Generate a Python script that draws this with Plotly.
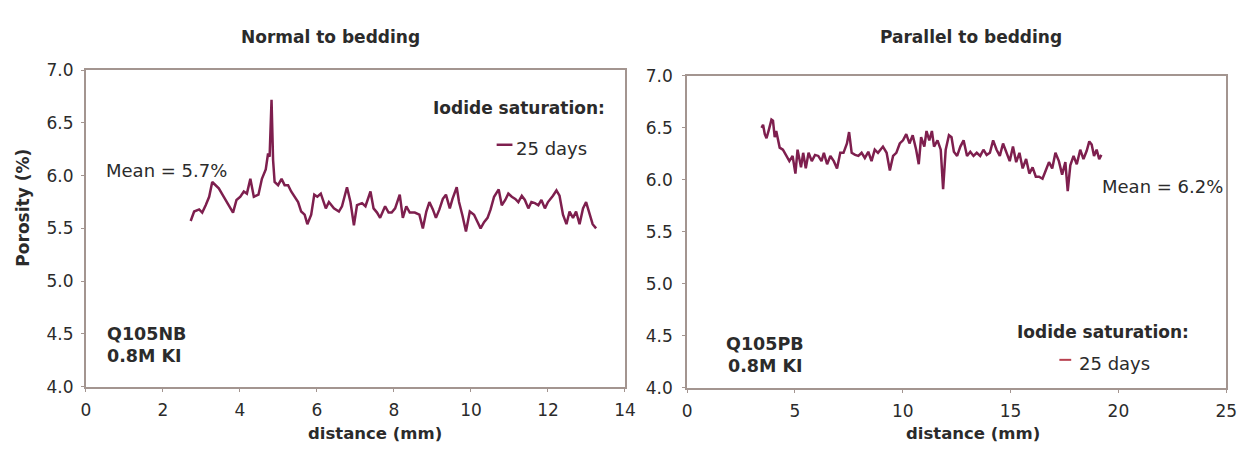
import plotly.graph_objects as go

W, H = 1253, 453

# ---------------- data ----------------
nb_distance = [2.72, 2.81, 2.94, 3.02, 3.11, 3.20, 3.28, 3.37, 3.45, 3.58, 3.71, 3.82, 3.91, 4.01, 4.10, 4.18,
               4.27, 4.36, 4.48, 4.57, 4.67, 4.73, 4.77, 4.82, 4.86, 4.90, 4.99, 5.08, 5.16, 5.25, 5.33, 5.42,
               5.51, 5.59, 5.68, 5.75, 5.85, 5.93, 6.01, 6.10, 6.23, 6.31, 6.44, 6.57, 6.65, 6.78, 6.87, 6.96,
               7.04, 7.17, 7.26, 7.39, 7.47, 7.56, 7.64, 7.77, 7.86, 7.94, 8.03, 8.15, 8.23, 8.32, 8.41, 8.54,
               8.66, 8.75, 8.84, 8.92, 9.01, 9.09, 9.18, 9.27, 9.35, 9.45, 9.52, 9.63, 9.69, 9.78, 9.87, 9.97,
               10.08, 10.17, 10.25, 10.34, 10.43, 10.51, 10.60, 10.72, 10.80, 10.89, 10.97, 11.06, 11.15, 11.23,
               11.32, 11.40, 11.49, 11.57, 11.66, 11.75, 11.83, 11.92, 12.00, 12.13, 12.22, 12.30, 12.39, 12.48,
               12.56, 12.65, 12.73, 12.82, 12.91, 12.99, 13.08, 13.16, 13.25]
nb_porosity = [5.57, 5.66, 5.68, 5.65, 5.72, 5.80, 5.94, 5.91, 5.88, 5.80, 5.72, 5.65, 5.77, 5.80, 5.85, 5.83,
               5.97, 5.80, 5.82, 5.97, 6.06, 6.21, 6.18, 6.72, 6.15, 5.94, 5.91, 5.97, 5.91, 5.91, 5.85, 5.80,
               5.75, 5.66, 5.63, 5.54, 5.63, 5.82, 5.80, 5.83, 5.69, 5.75, 5.69, 5.66, 5.71, 5.89, 5.75, 5.53,
               5.72, 5.74, 5.71, 5.85, 5.69, 5.65, 5.60, 5.71, 5.65, 5.65, 5.69, 5.82, 5.60, 5.71, 5.65, 5.65,
               5.63, 5.50, 5.66, 5.75, 5.68, 5.60, 5.68, 5.78, 5.82, 5.69, 5.78, 5.89, 5.75, 5.62, 5.47, 5.66,
               5.63, 5.56, 5.50, 5.56, 5.60, 5.68, 5.80, 5.87, 5.72, 5.77, 5.83, 5.80, 5.78, 5.75,
               5.81, 5.77, 5.69, 5.75, 5.74, 5.72, 5.77, 5.69, 5.75, 5.81, 5.86, 5.81, 5.63, 5.54,
               5.66, 5.60, 5.66, 5.54, 5.69, 5.75, 5.63, 5.54, 5.50]

pb_distance = [3.45, 3.52, 3.60, 3.68, 3.80, 3.91, 3.98, 4.06, 4.13, 4.21, 4.29, 4.44, 4.59, 4.74, 4.89, 5.02,
               5.12, 5.28, 5.38, 5.50, 5.63, 5.78, 5.93, 6.08, 6.23, 6.34, 6.49, 6.64, 6.80, 6.95, 7.10, 7.25,
               7.41, 7.51, 7.63, 7.79, 7.94, 8.09, 8.24, 8.40, 8.55, 8.70, 8.85, 9.08, 9.25, 9.40, 9.55, 9.70,
               9.86, 10.01, 10.16, 10.31, 10.46, 10.62, 10.74, 10.85, 11.00, 11.10, 11.23, 11.35, 11.45, 11.61,
               11.76, 11.87, 11.99, 12.14, 12.26, 12.37, 12.52, 12.67, 12.82, 12.98, 13.13, 13.28, 13.43, 13.59,
               13.74, 13.89, 14.04, 14.19, 14.35, 14.50, 14.65, 14.80, 14.96, 15.11, 15.26, 15.41, 15.56, 15.72,
               15.87, 16.02, 16.17, 16.32, 16.48, 16.63, 16.78, 16.93, 17.08, 17.24, 17.39, 17.54, 17.65, 17.77,
               17.92, 18.07, 18.23, 18.38, 18.53, 18.65, 18.76, 18.87, 18.99, 19.11, 19.21]
pb_porosity = [6.50, 6.53, 6.44, 6.40, 6.49, 6.58, 6.57, 6.41, 6.47, 6.38, 6.31, 6.29, 6.24, 6.18, 6.23, 6.06,
               6.29, 6.12, 6.26, 6.11, 6.26, 6.18, 6.24, 6.23, 6.18, 6.26, 6.15, 6.23, 6.18, 6.11, 6.26, 6.26,
               6.35, 6.46, 6.26, 6.24, 6.23, 6.26, 6.21, 6.27, 6.18, 6.29, 6.26, 6.32, 6.26, 6.09, 6.23, 6.26,
               6.35, 6.38, 6.44, 6.35, 6.43, 6.29, 6.15, 6.41, 6.32, 6.47, 6.38, 6.47, 6.32, 6.38,
               6.29, 5.91, 6.29, 6.43, 6.41, 6.27, 6.23, 6.32, 6.38, 6.23, 6.27, 6.23, 6.26, 6.23,
               6.29, 6.24, 6.26, 6.38, 6.29, 6.23, 6.35, 6.26, 6.18, 6.32, 6.17, 6.26, 6.11, 6.20,
               6.06, 6.12, 6.03, 6.03, 6.01, 6.09, 6.17, 6.11, 6.26, 6.18, 6.05, 6.17, 5.89, 6.14,
               6.23, 6.15, 6.29, 6.20, 6.28, 6.37, 6.34, 6.23, 6.29, 6.20, 6.24]

y_ticks = [4.0, 4.5, 5.0, 5.5, 6.0, 6.5, 7.0]
nb_x_ticks = [0, 2, 4, 6, 8, 10, 12, 14]
pb_x_ticks = [0, 5, 10, 15, 20, 25]

# ---------------- styling ----------------
LINE = "#7e1f4e"
FRAME = "#a39590"
TXT = "#2b2b2b"
FONT = "DejaVu Sans, Arial, sans-serif"


def px(x):
    return x / W


def py(y):
    return 1 - y / H


fig = go.Figure()
fig.add_trace(go.Scatter(x=nb_distance, y=nb_porosity, mode="lines", xaxis="x", yaxis="y",
                         line=dict(color=LINE, width=2.5), showlegend=False, name="25 days"))
fig.add_trace(go.Scatter(x=pb_distance, y=pb_porosity, mode="lines", xaxis="x2", yaxis="y2",
                         line=dict(color=LINE, width=2.5), showlegend=False, name="25 days"))

axis_common = dict(showgrid=False, zeroline=False, showline=True, mirror=True, linecolor=FRAME,
                   linewidth=2, ticks="outside", ticklen=3, tickcolor=FRAME,
                   tickfont=dict(family=FONT, size=17, color=TXT))

fig.update_layout(
    width=W, height=H, margin=dict(l=0, r=0, t=0, b=0),
    paper_bgcolor="white", plot_bgcolor="white",
    xaxis=dict(domain=[px(82), px(628)], range=[0, 14], tickvals=nb_x_ticks, anchor="y",
               ticklabelstandoff=4, **axis_common),
    yaxis=dict(domain=[py(394), py(63)], range=[4, 7], tickvals=y_ticks, tickformat=".1f", anchor="x",
               ticklabelstandoff=4, **axis_common),
    xaxis2=dict(domain=[px(691), px(1237)], range=[0, 25], tickvals=pb_x_ticks, anchor="y2",
                ticklabelstandoff=4, **axis_common),
    yaxis2=dict(domain=[py(395), py(69)], range=[4, 7], tickvals=y_ticks, tickformat=".1f", anchor="x2",
                ticklabelstandoff=6, **axis_common),
)


def ann(text, x, y, xanchor="center", size=17, bold=False, angle=0):
    fig.add_annotation(text=f"<b>{text}</b>" if bold else text, x=px(x), y=py(y),
                       xref="paper", yref="paper", xanchor=xanchor, yanchor="middle",
                       showarrow=False, textangle=angle,
                       font=dict(family=FONT, size=size, color=TXT))


# titles
ann("Normal to bedding", 330, 28, bold=True)
ann("Parallel to bedding", 979, 28, bold=True)
ann("Porosity (%)", 18, 207, bold=True, angle=-90)
ann("distance (mm)", 375, 443, bold=True, size=16.5)
ann("distance (mm)", 981, 443, bold=True, size=16.5)

# left annotations
ann("Iodide saturation:", 610, 103, xanchor="right", bold=True)
ann("25 days", 516, 145, xanchor="left", size=18)
ann("Mean = 5.7%", 100, 168, xanchor="left", size=18)
ann("Q105NB", 101, 339, xanchor="left", size=17.5, bold=True)
ann("0.8M KI", 101, 362, xanchor="left", size=17.5, bold=True)

# right annotations
ann("Iodide saturation:", 1201, 337, xanchor="right", bold=True)
ann("25 days", 1086, 370, xanchor="left", size=18)
ann("Mean = 6.2%", 1109, 185, xanchor="left", size=18)
ann("Q105PB", 770, 349, bold=True, size=17.5)
ann("0.8M KI", 770, 372, bold=True, size=17.5)

# legend sample lines
fig.add_shape(type="line", xref="paper", yref="paper", x0=px(498), x1=px(514), y0=py(141), y1=py(141),
              line=dict(color=LINE, width=2.5))
fig.add_shape(type="line", xref="paper", yref="paper", x0=px(1068), x1=px(1080), y0=py(366), y1=py(366),
              line=dict(color="#b8404f", width=2))

fig.write_html("out.html")
